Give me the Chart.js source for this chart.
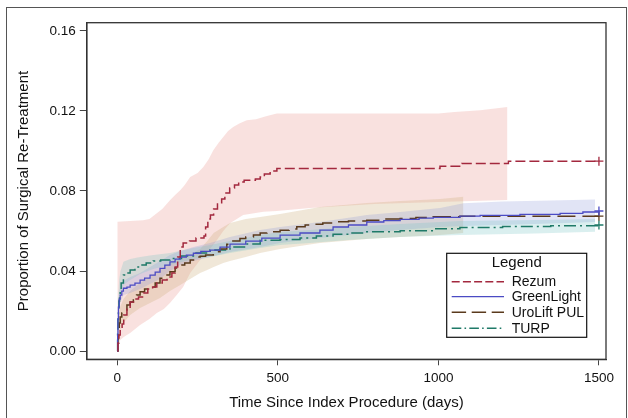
<!DOCTYPE html>
<html><head><meta charset="utf-8">
<script src="https://cdn.jsdelivr.net/npm/chart.js@4"></script>
<style>
html,body{margin:0;padding:0;background:#fff;}
#wrap{position:relative;width:628px;height:418px;overflow:hidden;background:#fff;}
#frame{position:absolute;left:6px;top:7px;width:621px;height:440px;border:1.5px solid #555;box-sizing:border-box;pointer-events:none;}
canvas{position:absolute;left:0;top:0;}
</style></head><body>
<div id="wrap"><canvas id="c" width="628" height="418"></canvas><div id="frame"></div></div>
<script>
// ---- tick labels ----
const xTicks = [0, 500, 1000, 1500];
const yTicks = [0.00, 0.04, 0.08, 0.12, 0.16];
const seriesNames = ["Rezum", "GreenLight", "UroLift PUL", "TURP"];

// ---- Rezum ----
const rezumDays = [0,2,5,9,15,20,30,40,55,66,81,95,110,123,140,155,170,180,188,196,205,225,245,270,275,282,290,300,312,325,335,350,365,378,395,430,445,458,476,497,1005,1073,1218,1500];
const rezumVals = [0,0.004,0.008,0.011,0.0135,0.018,0.021,0.0245,0.026,0.027,0.029,0.031,0.032,0.034,0.0355,0.037,0.039,0.042,0.047,0.052,0.054,0.055,0.0565,0.0575,0.062,0.066,0.068,0.071,0.0735,0.076,0.079,0.0815,0.083,0.0845,0.0854,0.086,0.087,0.0885,0.090,0.0912,0.0924,0.0937,0.0949,0.0949];
const rezumBandDays = [0,80,100,123,140,164,180,196,210,227,250,268,285,299,315,330,345,361,380,403,432,455,475,497,1000,1050,1130,1215];
const rezumUpper = [0.0646,0.0654,0.066,0.0689,0.071,0.0754,0.078,0.0804,0.083,0.087,0.089,0.092,0.096,0.1004,0.104,0.107,0.110,0.112,0.1137,0.1154,0.1158,0.117,0.1178,0.1187,0.1187,0.1195,0.1204,0.122];
const rezumLowerDays = [0,9,20,40,71,100,123,145,164,185,205,227,258,279,310,330,351,392,455,497,600,800,1000,1215];
const rezumLower = [0,0.0055,0.007,0.009,0.013,0.016,0.019,0.021,0.024,0.028,0.032,0.039,0.0455,0.049,0.0554,0.060,0.0639,0.068,0.0696,0.070,0.0715,0.0735,0.0745,0.0755];

// ---- GreenLight ----
const glDays = [0,1,2,3.5,6,9,14,19,30,40,55,71,85,102,118,133,148,164,180,196,215,237,260,289,320,351,400,450,507,569,631,672,720,777,830,881,940,984,1067,1130,1254,1379,1450,1500];
const glVals = [0,0.008,0.016,0.022,0.026,0.028,0.030,0.0314,0.032,0.033,0.034,0.0355,0.0365,0.038,0.0395,0.0413,0.043,0.0446,0.046,0.047,0.048,0.0489,0.0498,0.0505,0.052,0.0535,0.055,0.0565,0.058,0.059,0.0604,0.062,0.063,0.0645,0.0652,0.0658,0.0664,0.0668,0.0674,0.0678,0.0683,0.0688,0.0695,0.070];
const glBandDays = [0,3,9,19,40,71,102,133,164,196,237,289,351,445,507,631,777,881,1005,1078,1200,1350,1488];
const glUpper = [0,0.025,0.032,0.035,0.037,0.039,0.042,0.045,0.048,0.050,0.052,0.054,0.057,0.0605,0.062,0.0645,0.068,0.0695,0.0715,0.0739,0.0748,0.0752,0.0758];
const glLower = [0,0.016,0.024,0.028,0.029,0.031,0.0335,0.036,0.040,0.043,0.045,0.047,0.0495,0.052,0.054,0.0565,0.059,0.0605,0.062,0.0625,0.063,0.0638,0.0645];

// ---- UroLift PUL ----
const ulDays = [0,2,3.5,6,9,14,19,30,40,50,60,71,85,102,118,133,148,164,180,196,210,227,248,258,275,299,320,341,360,382,400,424,445,466,507,535,559,585,611,640,672,720,777,830,881,930,984,1067,1500];
const ulVals = [0,0.006,0.009,0.014,0.017,0.019,0.0205,0.023,0.0245,0.0263,0.028,0.0296,0.031,0.032,0.034,0.0364,0.038,0.0396,0.0415,0.043,0.044,0.0455,0.047,0.0474,0.048,0.0497,0.051,0.0534,0.055,0.0563,0.057,0.058,0.059,0.0596,0.0604,0.061,0.0621,0.063,0.0634,0.064,0.0646,0.065,0.0654,0.066,0.0663,0.0667,0.0671,0.0674,0.0674];
const ulBandDays = [0,3,9,19,40,71,102,133,164,196,237,258,280,300,330,351,400,445,507,631,777,881,1005,1078];
const ulUpper = [0,0.016,0.022,0.026,0.030,0.034,0.037,0.041,0.044,0.046,0.049,0.051,0.055,0.059,0.062,0.064,0.066,0.067,0.0685,0.072,0.074,0.075,0.076,0.0771];
const ulLower = [0,0.004,0.010,0.014,0.018,0.0215,0.024,0.0265,0.030,0.033,0.037,0.039,0.0405,0.042,0.044,0.045,0.047,0.049,0.051,0.054,0.056,0.057,0.058,0.059];

// ---- TURP ----
const turpDays = [0,1,2,3.5,5,7,9,12,19,25,40,55,71,90,112,135,164,200,237,289,351,400,445,507,569,620,672,720,777,881,984,1067,1200,1350,1500];
const turpVals = [0,0.010,0.016,0.0205,0.025,0.028,0.0305,0.034,0.038,0.039,0.0405,0.042,0.043,0.044,0.045,0.0455,0.0463,0.0475,0.049,0.0505,0.052,0.0535,0.0554,0.0558,0.0565,0.0575,0.0584,0.059,0.0596,0.0601,0.0611,0.0618,0.0622,0.0626,0.063];
const turpBandDays = [0,3,6,10,19,40,71,112,164,237,289,351,445,507,600,720,881,1067,1300,1488];
const turpUpper = [0,0.028,0.036,0.040,0.0446,0.046,0.047,0.048,0.049,0.0515,0.053,0.055,0.058,0.0595,0.0605,0.062,0.0635,0.065,0.0655,0.066];
const turpLower = [0,0.014,0.022,0.028,0.033,0.0355,0.0385,0.041,0.043,0.046,0.047,0.049,0.0515,0.053,0.054,0.0555,0.057,0.058,0.0588,0.0596];

function pts(xs, ys){ return xs.map((x,i)=>({x:x, y:ys[i]})); }

Chart.defaults.font.family = "'Liberation Sans', Arial, sans-serif";
Chart.defaults.color = '#222';

function lineDs(label, xs, ys, color, dash, width){
  const n = xs.length;
  return {
    label, data: pts(xs, ys), borderColor: color, backgroundColor: color,
    borderWidth: width, borderDash: dash, stepped: 'before', fill: false,
    pointStyle: 'cross', pointBorderWidth: 1.3, pointBorderColor: color,
    pointRadius: ctx => ctx.dataIndex === n-1 ? 4.5 : 0,
    pointHoverRadius: 0, isLine: true
  };
}
function bandDs(xs, ys, color, fill){
  return { label:'', data: pts(xs, ys), borderWidth: 0, borderColor:'rgba(0,0,0,0)',
    backgroundColor: color, pointRadius: 0, stepped: false, tension: 0, fill: fill };
}

const datasets = [
  lineDs(seriesNames[0], rezumDays, rezumVals, '#A3283E', [10,4], 1.5),
  lineDs(seriesNames[1], glDays, glVals, '#4B4BC4', [], 1.3),
  lineDs(seriesNames[2], ulDays, ulVals, '#5A3A1C', [18,7], 1.5),
  lineDs(seriesNames[3], turpDays, turpVals, '#1F7A68', [12,4,2,4], 1.5),
  bandDs(turpBandDays, turpUpper, 'rgba(120,195,195,0.27)', '+1'),
  bandDs(turpBandDays, turpLower, 'rgba(0,0,0,0)', false),
  bandDs(glBandDays, glUpper, 'rgba(140,150,215,0.26)', '+1'),
  bandDs(glBandDays, glLower, 'rgba(0,0,0,0)', false),
  bandDs(ulBandDays, ulUpper, 'rgba(205,175,125,0.30)', '+1'),
  bandDs(ulBandDays, ulLower, 'rgba(0,0,0,0)', false),
  bandDs(rezumBandDays, rezumUpper, 'rgba(235,155,150,0.30)', {target: '+1'}),
  bandDs(rezumLowerDays, rezumLower, 'rgba(0,0,0,0)', false)
];

const framePlugin = {
  id: 'framePlugin',
  afterDatasetsDraw(chart){
    const {ctx, chartArea: a} = chart;
    ctx.save();
    ctx.strokeStyle = '#333'; ctx.lineWidth = 1.3; ctx.setLineDash([]);
    ctx.strokeRect(a.left, a.top, a.right - a.left, a.bottom - a.top);
    ctx.restore();
  }
};

const legendPlugin = {
  id: 'legendPlugin',
  afterDraw(chart){
    const {ctx, chartArea: a} = chart;
    const w = 140, h = 84;
    const x0 = a.right - 19.3 - w, y0 = a.bottom - 22 - h;
    ctx.save();
    ctx.fillStyle = '#fff';
    ctx.fillRect(x0, y0, w, h);
    ctx.strokeStyle = '#111'; ctx.lineWidth = 1.2; ctx.setLineDash([]);
    ctx.strokeRect(x0, y0, w, h);
    ctx.fillStyle = '#111';
    ctx.textAlign = 'center'; ctx.textBaseline = 'middle';
    ctx.font = "15px 'Liberation Sans', Arial, sans-serif";
    ctx.fillText('Legend', x0 + 70, y0 + 10);
    const rows = [28.4, 43.4, 59, 75];
    ctx.font = "14px 'Liberation Sans', Arial, sans-serif";
    ctx.textAlign = 'left';
    chart.data.datasets.filter(d => d.isLine).forEach((d, i) => {
      const y = y0 + rows[i];
      ctx.strokeStyle = d.borderColor; ctx.lineWidth = d.borderWidth;
      ctx.setLineDash(d.borderDash.length ? d.borderDash.map(v => v*0.8) : []);
      ctx.beginPath(); ctx.moveTo(x0 + 5, y); ctx.lineTo(x0 + 57.3, y); ctx.stroke();
      ctx.setLineDash([]);
      ctx.fillStyle = '#111';
      ctx.fillText(d.label, x0 + 65, y + 0.5);
    });
    ctx.restore();
  }
};

new Chart(document.getElementById('c'), {
  type: 'line',
  data: { datasets },
  options: {
    responsive: false, animation: false, devicePixelRatio: 1,
    layout: { padding: { left: 15, top: 22.7, right: 22, bottom: 6 } },
    plugins: { legend: { display: false }, tooltip: { enabled: false },
      filler: { propagate: false } },
    scales: {
      x: {
        type: 'linear', min: -95, max: 1522,
        afterBuildTicks: s => { s.ticks = xTicks.map(v => ({ value: v })); },
        afterFit: s => { s.height = 52.7; },
        ticks: { font: { size: 13.5 }, color: '#111', padding: 4.6, maxRotation: 0, autoSkip: false,
          callback: v => String(v) },
        grid: { drawOnChartArea: false, drawTicks: true, tickLength: 6, color: '#444', lineWidth: 1 },
        border: { display: true, color: '#333', width: 1.3 },
        title: { display: true, text: 'Time Since Index Procedure (days)', font: { size: 15 }, color: '#111',
          padding: { top: 0, bottom: 0 } }
      },
      y: {
        type: 'linear', min: -0.0041, max: 0.1641,
        afterBuildTicks: s => { s.ticks = yTicks.map(v => ({ value: v })); },
        afterFit: s => { s.width = 71.8; },
        ticks: { font: { size: 13.5 }, color: '#111', padding: 4, autoSkip: false,
          callback: v => Number(v).toFixed(2) },
        grid: { drawOnChartArea: false, drawTicks: true, tickLength: 7, color: '#444', lineWidth: 1 },
        border: { display: true, color: '#333', width: 1.3 },
        title: { display: true, text: 'Proportion of Surgical Re-Treatment', font: { size: 15 }, color: '#111',
          padding: { top: 0, bottom: 0 } }
      }
    }
  },
  plugins: [framePlugin, legendPlugin]
});
</script>
</body></html>
